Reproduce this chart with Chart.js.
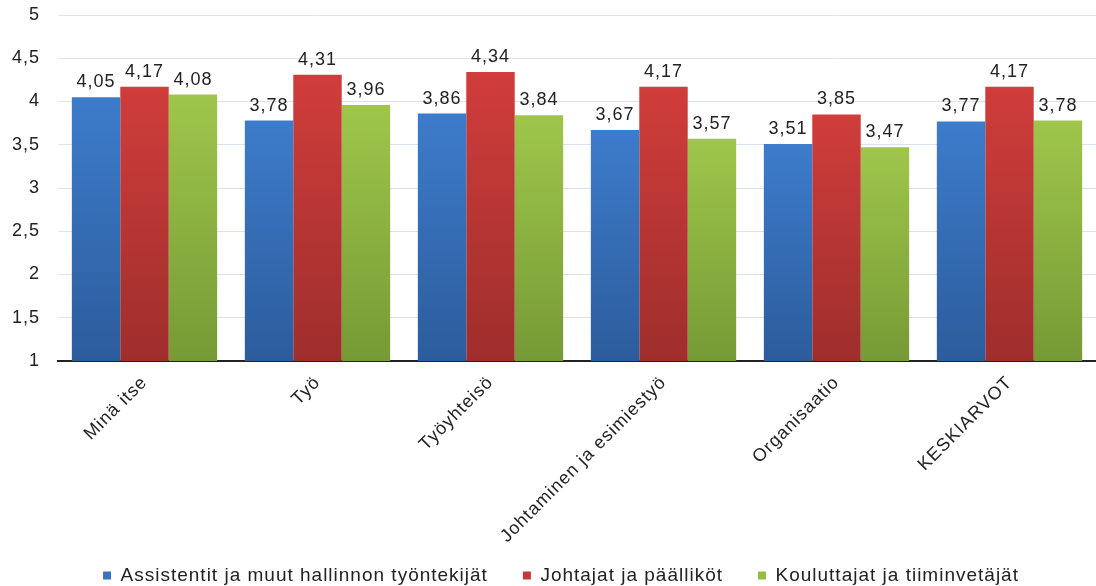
<!DOCTYPE html>
<html>
<head>
<meta charset="utf-8">
<script src="https://cdn.jsdelivr.net/npm/chart.js@4.4.0/dist/chart.umd.min.js"></script>
<style>
  html, body { margin: 0; padding: 0; background: #fff; overflow: hidden; }
</style>
</head>
<body>
<canvas id="myChart" width="1096" height="586"></canvas>
<script>
const categories = ["Minä itse", "Työ", "Työyhteisö", "Johtaminen ja esimiestyö", "Organisaatio", "KESKIARVOT"];
const seriesNames = ["Assistentit ja muut hallinnon työntekijät", "Johtajat ja päälliköt", "Kouluttajat ja tiiminvetäjät"];
const assistentit = [4.05, 3.78, 3.86, 3.67, 3.51, 3.77];
const johtajat = [4.17, 4.31, 4.34, 4.17, 3.85, 4.17];
const kouluttajat = [4.08, 3.96, 3.84, 3.57, 3.47, 3.78];
const yTicks = ["1", "1,5", "2", "2,5", "3", "3,5", "4", "4,5", "5"];

const fontFamily = "'Liberation Sans', Arial, sans-serif";
Chart.defaults.font.family = fontFamily;

// top / bottom colours of the bar gradients, legend swatch colour
const blue = ["#3d7ccb", "#2c5c9c", "#3b73bd"];
const red = ["#d03d3b", "#9e2e2c", "#c4393a"];
const green = ["#9fc64b", "#769a35", "#93bd45"];

function barFill(cols) {
  return function (c) {
    const chart = c.chart;
    const area = chart.chartArea;
    if (!area || c.type !== "data") return cols[0];
    const y = chart.scales.y.getPixelForValue(c.raw);
    const g = chart.ctx.createLinearGradient(0, y, 0, area.bottom);
    g.addColorStop(0, cols[0]);
    g.addColorStop(1, cols[1]);
    return g;
  };
}

// the picture looks a bit stretched, so a little letter spacing everywhere
const tweaks = {
  id: "tweaks",
  beforeUpdate(chart) { chart.ctx.letterSpacing = "1px"; },
  afterLayout(chart) {
    // legend sits a bit right of centre in the original
    chart.legend.left += 12;
    chart.legend.right += 12;
    // don't cut the long rotated category labels
    chart.scales.x._computeLabelArea = () => undefined;
  },
  beforeDraw(chart) { chart.ctx.letterSpacing = "1px"; }
};

const valueLabels = {
  id: "valueLabels",
  afterDatasetsDraw(chart) {
    const ctx = chart.ctx;
    ctx.save();
    ctx.font = "18px " + fontFamily;
    ctx.fillStyle = "#222";
    ctx.textAlign = "center";
    ctx.textBaseline = "alphabetic";
    chart.data.datasets.forEach((ds, i) => {
      chart.getDatasetMeta(i).data.forEach((bar, j) => {
        ctx.fillText(ds.data[j].toFixed(2).replace(".", ","), bar.x, bar.y - 10);
      });
    });
    ctx.restore();
  }
};

const swatches = [blue[2], red[2], green[2]];

var ctx = document.getElementById("myChart").getContext("2d");
var myChart = new Chart(ctx, {
  type: "bar",
  data: {
    labels: categories,
    datasets: [
      { label: seriesNames[0], data: assistentit, backgroundColor: barFill(blue) },
      { label: seriesNames[1], data: johtajat, backgroundColor: barFill(red) },
      { label: seriesNames[2], data: kouluttajat, backgroundColor: barFill(green) },
    ],
  },
  options: {
    responsive: false,
    animation: false,
    categoryPercentage: 0.84,
    barPercentage: 1,
    layout: { padding: { left: 0, right: -2, top: 0, bottom: -9 } },
    plugins: {
      tooltip: { enabled: false },
      legend: {
        display: true,
        position: "bottom",
        labels: {
          boxWidth: 8,
          boxHeight: 8,
          padding: 35,
          color: "#222",
          font: { size: 19 },
          generateLabels(chart) {
            const items = Chart.defaults.plugins.legend.labels.generateLabels(chart);
            items.forEach((it, i) => {
              it.fillStyle = swatches[i];
              it.strokeStyle = swatches[i];
              it.lineWidth = 0;
            });
            return items;
          },
        },
      },
    },
    scales: {
      x: {
        grid: { display: false },
        border: { display: true, color: "#222", width: 2 },
        ticks: { minRotation: 45, maxRotation: 45, color: "#222", font: { size: 18 } },
        afterFit(scale) { scale.height = 170; },
      },
      y: {
        min: 1,
        max: 5,
        ticks: {
          stepSize: 0.5,
          padding: 18,
          color: "#222",
          font: { size: 18 },
          callback: (v, i) => yTicks[i],
        },
        grid: { color: "#dce3ef", drawTicks: false },
        border: { display: false },
        afterFit(scale) {
          scale.width = 58;
          scale.paddingTop = 15;
          scale.paddingBottom = 0;
        },
      },
    },
  },
  plugins: [tweaks, valueLabels],
});
</script>
</body>
</html>
